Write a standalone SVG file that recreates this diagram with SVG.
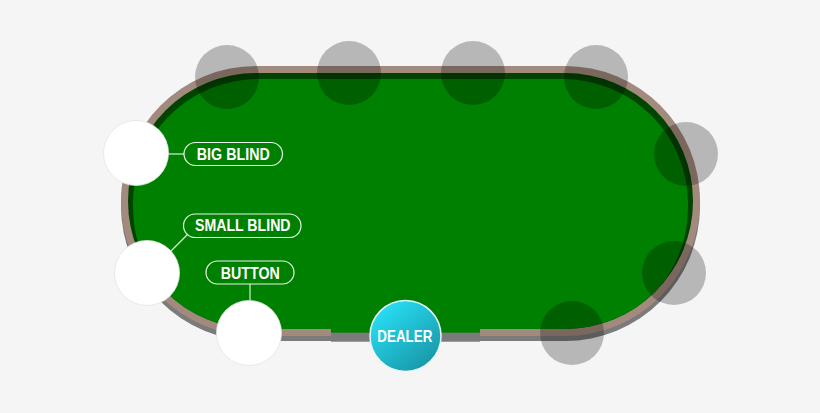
<svg xmlns="http://www.w3.org/2000/svg" width="820" height="413" viewBox="0 0 820 413">
<defs>
<linearGradient id="dealerGrad" x1="0.2" y1="0.1" x2="0.85" y2="0.9">
<stop offset="0" stop-color="#27dcf2"/>
<stop offset="1" stop-color="#1898a8"/>
</linearGradient>
<clipPath id="innerClip"><rect x="128" y="73" width="565" height="256" rx="128" ry="128"/></clipPath>
</defs>
<style>
.seat{fill:#000;fill-opacity:0.25}
.player{fill:#fff;stroke:#e4e4e4;stroke-width:0.8}
.pill{fill:none;stroke:#e9f5e9;stroke-width:1.2}
.lbl{font-family:"Liberation Sans",Arial,sans-serif;font-weight:bold;font-size:16.5px;fill:#fff;text-anchor:middle}
.conn{stroke:#d8efd8;stroke-width:1.2;fill:none}
</style>
<rect width="820" height="413" fill="#f5f5f5"/>
<g id="table">
<rect x="121" y="71" width="579" height="270" rx="135" ry="135" fill="#7b7b7b"/>
<rect x="121" y="66" width="579" height="270" rx="135" ry="135" fill="#a38a7e"/>
<rect x="128" y="73" width="565" height="256" rx="128" ry="128" fill="#004400"/>
<rect x="133" y="79" width="555" height="254" rx="125" ry="125" fill="#008000" clip-path="url(#innerClip)"/>
<rect x="331" y="318" width="149" height="15" fill="#008000"/>
<rect x="331" y="332.7" width="149" height="9" fill="#7b7b7b"/>
</g>
<g id="seats">
<circle class="seat" cx="227" cy="77" r="32"/>
<circle class="seat" cx="349" cy="73" r="32"/>
<circle class="seat" cx="473" cy="73" r="32"/>
<circle class="seat" cx="596" cy="77" r="32"/>
<circle class="seat" cx="686" cy="154" r="32"/>
<circle class="seat" cx="674" cy="273" r="32"/>
<circle class="seat" cx="572" cy="333" r="32"/>
</g>
<g id="connectors">
<line class="conn" x1="168" y1="154" x2="184" y2="154"/>
<line class="conn" x1="188" y1="234" x2="171" y2="251"/>
<line class="conn" x1="250" y1="284" x2="250" y2="300"/>
</g>
<g id="big-blind">
<circle class="player" cx="136" cy="153" r="32.5"/>
<rect class="pill" x="184" y="142.5" width="98.5" height="23" rx="11.5"/>
<text class="lbl" x="233.3" y="160" textLength="73" lengthAdjust="spacingAndGlyphs">BIG BLIND</text>
</g>
<g id="small-blind">
<circle class="player" cx="147" cy="273" r="32.5"/>
<rect class="pill" x="183.5" y="214" width="117.5" height="23.5" rx="11.7"/>
<text class="lbl" x="242.8" y="231" textLength="95.5" lengthAdjust="spacingAndGlyphs">SMALL BLIND</text>
</g>
<g id="button">
<circle class="player" cx="249" cy="333" r="32.5"/>
<rect class="pill" x="206" y="261" width="88" height="23" rx="11.5"/>
<text class="lbl" x="250.3" y="279" textLength="59" lengthAdjust="spacingAndGlyphs">BUTTON</text>
</g>
<g id="dealer">
<circle cx="405.5" cy="336" r="35.5" fill="url(#dealerGrad)" stroke="#e8f8fa" stroke-width="1.5"/>
<text class="lbl" x="404.8" y="341.7" textLength="55" lengthAdjust="spacingAndGlyphs">DEALER</text>
</g>
</svg>
